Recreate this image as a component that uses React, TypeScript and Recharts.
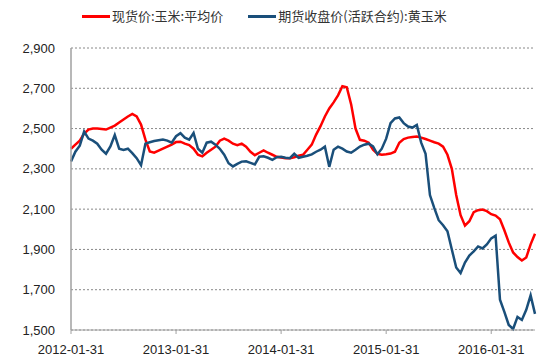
import { LineChart, Line, XAxis, YAxis, CartesianGrid } from 'recharts';

// semi-monthly samples starting 2012-01-31
const spotCorn = [
  2400, 2420, 2440, 2475, 2495, 2500, 2500, 2498, 2495, 2505,
  2515, 2530, 2545, 2560, 2573, 2560, 2520, 2445, 2386, 2380,
  2390, 2400, 2410, 2420, 2433, 2435, 2425, 2418, 2400, 2370,
  2362, 2380, 2395, 2410, 2440, 2450, 2440, 2425, 2418, 2425,
  2410, 2385, 2368, 2380, 2392, 2380, 2370, 2360, 2356, 2353,
  2353, 2358, 2365, 2370, 2395, 2420, 2470, 2512, 2560, 2600,
  2630, 2665, 2710, 2705, 2620, 2500, 2444, 2440, 2430, 2395,
  2375, 2370, 2372, 2376, 2385, 2430, 2448, 2455, 2458, 2460,
  2455, 2448, 2440, 2432, 2425, 2410, 2370, 2300, 2170, 2070,
  2018, 2040, 2085, 2095, 2098, 2090, 2075, 2068, 2050, 1995,
  1935, 1885, 1862, 1845, 1860, 1925, 1978,
];

const futuresCorn = [
  2336, 2385, 2415, 2485, 2450, 2440, 2425, 2395, 2375, 2411,
  2468, 2400, 2394, 2400, 2378, 2353, 2318, 2425, 2432, 2438,
  2442, 2446, 2440, 2430, 2462, 2477, 2455, 2445, 2478, 2400,
  2380, 2430, 2435, 2420, 2400, 2370, 2328, 2312, 2325, 2336,
  2338, 2330, 2322, 2360, 2362, 2355, 2345, 2358, 2360, 2355,
  2353, 2375, 2355, 2360, 2365, 2372, 2385, 2395, 2410, 2310,
  2395, 2410, 2400, 2386, 2380, 2395, 2411, 2420, 2425, 2411,
  2372, 2400, 2450, 2527, 2550, 2555, 2527, 2510, 2505, 2518,
  2430, 2375, 2170, 2105, 2045, 2020, 1990, 1900, 1810, 1783,
  1835, 1870, 1890, 1915, 1905, 1925, 1955, 1968, 1650, 1590,
  1525, 1505, 1565, 1550, 1600, 1672, 1580,
];

const xTickIndex = [0, 24, 48, 72, 96];
const xTickLabels = ['2012-01-31', '2013-01-31', '2014-01-31', '2015-01-31', '2016-01-31'];
const yTicks = [1500, 1700, 1900, 2100, 2300, 2500, 2700, 2900];

const seriesNames = ['现货价:玉米:平均价', '期货收盘价(活跃合约):黄玉米'];
const seriesColors = ['#ff0000', '#1a4f7a'];

const data = spotCorn.map((v, i) => ({ idx: i, spot: v, futures: futuresCorn[i] }));

export default function App() {
  return (
    <div
      style={{
        position: 'absolute',
        left: 0,
        top: 0,
        width: 550,
        height: 359,
        background: '#fff',
        fontFamily: 'Arial, "Liberation Sans", sans-serif',
      }}
    >
      <div
        style={{
          position: 'absolute',
          top: 7,
          left: 82,
          display: 'flex',
          alignItems: 'center',
          fontFamily: '"Noto Sans CJK SC", sans-serif',
          fontSize: 13,
          color: '#333',
          lineHeight: '18px',
        }}
      >
        {seriesNames.map((name, i) => (
          <div key={name} style={{ display: 'flex', alignItems: 'center', marginRight: i === 0 ? 25 : 0 }}>
            <span style={{ display: 'inline-block', width: 28, height: 3, background: seriesColors[i], marginRight: 2 }} />
            <span>{name}</span>
          </div>
        ))}
      </div>
      <LineChart width={550} height={359} data={data} margin={{ top: 48, right: 15, bottom: 0, left: 0 }}>
        <CartesianGrid vertical={false} stroke="#888" strokeDasharray="2 2" />
        <XAxis
          dataKey="idx"
          type="number"
          domain={[0, spotCorn.length - 1]}
          ticks={xTickIndex}
          tickFormatter={(v: number) => xTickLabels[xTickIndex.indexOf(v)] ?? ''}
          height={29}
          tickSize={4}
          tickMargin={11}
          stroke="#a0a0a0"
          tick={{ fill: '#222', fontSize: 13 }}
        />
        <YAxis
          domain={[1500, 2900]}
          ticks={yTicks}
          width={71}
          tickSize={0}
          tickMargin={16}
          tickLine={false}
          stroke="#a0a0a0"
          strokeWidth={1.5}
          tick={{ fill: '#222', fontSize: 13 }}
          tickFormatter={(v: number) => v.toLocaleString('en-US')}
        />
        <Line dataKey="spot" stroke={seriesColors[0]} strokeWidth={2.5} dot={false} isAnimationActive={false} />
        <Line dataKey="futures" stroke={seriesColors[1]} strokeWidth={2.5} dot={false} isAnimationActive={false} />
      </LineChart>
    </div>
  );
}
